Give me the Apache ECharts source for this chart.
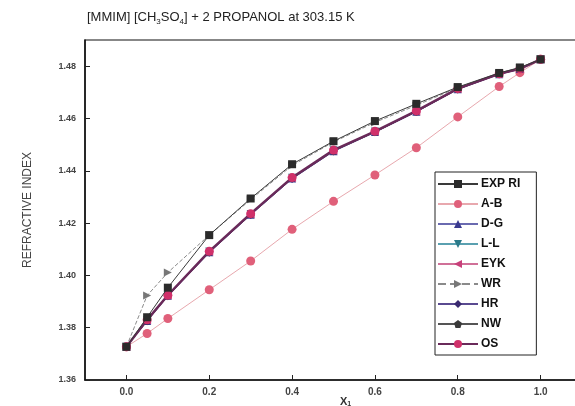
<!DOCTYPE html>
<html>
<head>
<meta charset="utf-8">
<script src="https://cdn.jsdelivr.net/npm/echarts@6/dist/echarts.min.js"></script>
<style>
  html, body { margin: 0; padding: 0; background: #fff; }
  #main { width: 575px; height: 406px; }
</style>
</head>
<body>
<div id="main"></div>
<script>
// mole fraction x1
const xVals = [0, 0.05, 0.1, 0.2, 0.3, 0.4, 0.5, 0.6, 0.7, 0.8, 0.9, 0.95, 1.0];

// refractive index, experimental and predicted
const expRI = [1.3727, 1.3840, 1.3953, 1.4154, 1.4294, 1.4425, 1.4513, 1.4590, 1.4656, 1.4720, 1.4774, 1.4795, 1.4826];
const abRI  = [1.3727, 1.3778, 1.3835, 1.3945, 1.4055, 1.4176, 1.4283, 1.4384, 1.4488, 1.4606, 1.4722, 1.4775, 1.4826];
const dgRI  = [1.3727, 1.3826, 1.3922, 1.4088, 1.4232, 1.4370, 1.4475, 1.4548, 1.4626, 1.4712, 1.4769, 1.4789, 1.4826];
const llRI  = [1.3727, 1.3829, 1.3925, 1.4091, 1.4235, 1.4373, 1.4478, 1.4550, 1.4628, 1.4713, 1.4770, 1.4790, 1.4826];
const eykRI = [1.3727, 1.3828, 1.3923, 1.4090, 1.4234, 1.4372, 1.4477, 1.4549, 1.4627, 1.4713, 1.4770, 1.4789, 1.4826];
const wrRI  = [1.3727, 1.3923, 1.4011, 1.4154, 1.4290, 1.4420, 1.4510, 1.4585, 1.4650, 1.4718, 1.4772, 1.4793, 1.4826];
const hrRI  = [1.3727, 1.3825, 1.3920, 1.4087, 1.4231, 1.4369, 1.4474, 1.4547, 1.4625, 1.4711, 1.4769, 1.4788, 1.4826];
const nwRI  = [1.3727, 1.3827, 1.3922, 1.4089, 1.4233, 1.4371, 1.4476, 1.4548, 1.4626, 1.4712, 1.4770, 1.4789, 1.4826];
const osRI  = [1.3727, 1.3830, 1.3924, 1.4092, 1.4236, 1.4374, 1.4479, 1.4551, 1.4629, 1.4714, 1.4771, 1.4790, 1.4826];

const xTicks = [0, 0.2, 0.4, 0.6, 0.8, 1.0];
const yTicks = [1.36, 1.38, 1.40, 1.42, 1.44, 1.46, 1.48];

const seriesNames = ['EXP RI', 'A-B', 'D-G', 'L-L', 'EYK', 'WR', 'HR', 'NW', 'OS'];

function pairs(ys) {
    return xVals.map((x, i) => [x, ys[i]]);
}

function mk(name, ys, symbol, color, lineColor, extra) {
    return Object.assign({
        name: name,
        type: 'line',
        data: pairs(ys),
        symbol: symbol,
        symbolSize: 8,
        itemStyle: { color: color },
        lineStyle: { color: lineColor, width: 1 },
        z: 2
    }, extra || {});
}

const pentagon = 'path://M50,0 L100,38 L81,100 L19,100 L0,38 Z';

const series = [
    mk('EXP RI', expRI, 'rect', '#2b2b2b', '#3a3a3a', { z: 6, symbolSize: 8 }),
    mk('A-B', abRI, 'circle', '#e0607a', '#e8a8ae', { symbolSize: 9 }),
    mk('D-G', dgRI, 'triangle', '#3a3a90', '#6a6ab0'),
    mk('L-L', llRI, 'triangle', '#2a7a8a', '#5aa0b0', { symbolRotate: 180 }),
    mk('EYK', eykRI, 'triangle', '#c8407a', '#d07098', { symbolRotate: 90 }),
    mk('WR', wrRI, 'triangle', '#777777', '#8a8a8a', { symbolRotate: -90, lineStyle: { color: '#8a8a8a', width: 1, type: 'dashed' } }),
    mk('HR', hrRI, 'diamond', '#3a2a70', '#5a4a90'),
    mk('NW', nwRI, pentagon, '#3a3a3a', '#555555', { symbolSize: 7 }),
    mk('OS', osRI, 'circle', '#d0306a', '#6a2a5a', { z: 4, symbolSize: 9, lineStyle: { color: '#6a2a5a', width: 2.5 } })
];

const chart = echarts.init(document.getElementById('main'), null, { renderer: 'canvas' });

chart.setOption({
    animation: false,
    backgroundColor: '#ffffff',
    textStyle: { fontFamily: 'Liberation Sans, Arial, sans-serif' },
    title: {
        text: '[MMIM] [CH{s|3}SO{s|4}] + 2 PROPANOL at 303.15 K',
        left: 82,
        top: 3,
        textStyle: {
            fontSize: 13,
            fontWeight: 'normal',
            color: '#222',
            rich: {
                s: { fontSize: 8, color: '#222', verticalAlign: 'bottom', padding: [10, 0, 0, 0] }
            }
        }
    },
    grid: {
        left: 85,
        top: 40,
        width: 497,
        bottom: 26,
        outerBoundsMode: 'none',
        show: true,
        borderColor: '#111',
        borderWidth: 1.2
    },
    legend: {
        data: seriesNames,
        orient: 'vertical',
        left: 435,
        top: 172,
        itemWidth: 40,
        itemHeight: 10,
        itemGap: 8,
        padding: [6, 16, 5, 2],
        borderColor: '#222',
        borderWidth: 1,
        backgroundColor: '#fff',
        textStyle: { fontSize: 12, fontWeight: 'bold', color: '#111', padding: [0, 0, 0, -2] }
    },
    xAxis: {
        type: 'value',
        min: -0.1,
        max: 1.1,
        name: 'X{s|1}',
        nameLocation: 'middle',
        nameGap: 15,
        nameMoveOverlap: false,
        nameTextStyle: {
            fontSize: 11,
            fontWeight: 'bold',
            color: '#333',
            padding: [0, 0, 0, 24],
            rich: { s: { fontSize: 7, fontWeight: 'bold', color: '#333', padding: [6, 0, 0, 0] } }
        },
        splitLine: { show: false },
        axisLine: { onZero: false, lineStyle: { color: '#111', width: 1.5 } },
        axisTick: { inside: true, length: 5, customValues: xTicks, lineStyle: { color: '#222' } },
        axisLabel: {
            customValues: xTicks,
            formatter: v => v.toFixed(1),
            fontSize: 10,
            fontWeight: 'bold',
            color: '#444',
            margin: 7
        }
    },
    yAxis: {
        type: 'value',
        min: 1.36,
        max: 1.49,
        name: 'REFRACTIVE INDEX',
        nameLocation: 'middle',
        nameGap: 51,
        nameMoveOverlap: false,
        nameTextStyle: { fontSize: 12, color: '#444' },
        splitLine: { show: false },
        axisLine: { onZero: false, lineStyle: { color: '#111', width: 1.5 } },
        axisTick: { inside: true, length: 5, customValues: yTicks, lineStyle: { color: '#222' } },
        axisLabel: {
            customValues: yTicks,
            formatter: v => v.toFixed(2),
            fontSize: 9,
            fontWeight: 'bold',
            color: '#444',
            margin: 9
        }
    },
    series: series
});
</script>
</body>
</html>
